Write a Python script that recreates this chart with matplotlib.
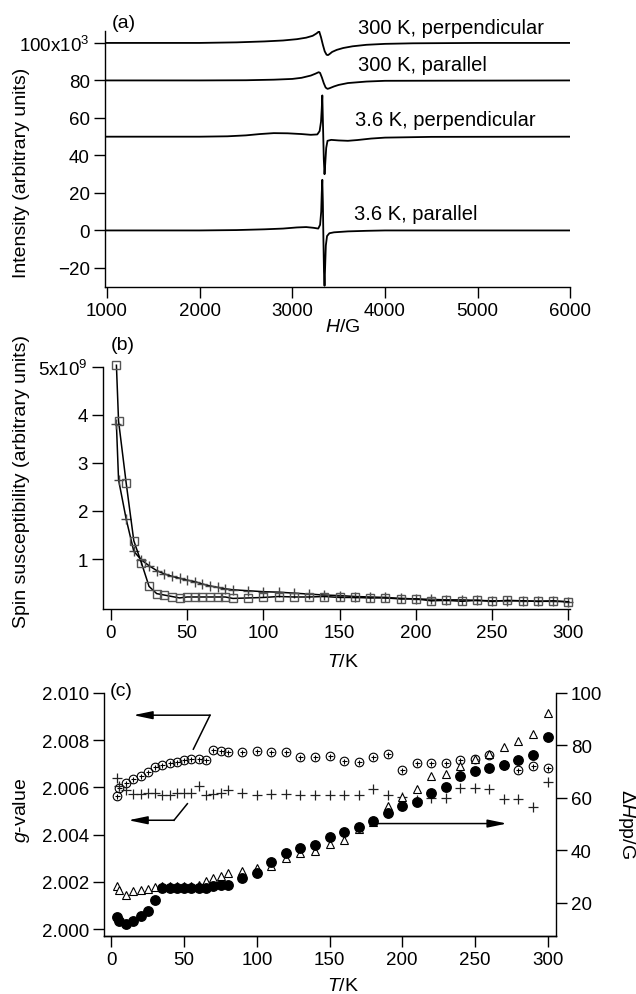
import matplotlib
matplotlib.use('Agg')
import matplotlib.pyplot as plt

plt.rcParams['font.family'] = ['Liberation Sans', 'DejaVu Sans']
plt.rcParams['mathtext.fontset'] = 'custom'
plt.rcParams['mathtext.rm'] = 'Liberation Sans'
plt.rcParams['mathtext.it'] = 'Liberation Sans:italic'
plt.rcParams['axes.unicode_minus'] = True

# ---------------- data: panel (a) EPR spectra (intensity in 10^3) ----------------
H_300_perp = [1000, 2000, 2400, 2700, 2900, 3050, 3150, 3220, 3260, 3290, 3310, 3330,
              3350, 3370, 3385, 3400, 3430, 3480, 3550, 3650, 3800, 4000, 4300, 5000, 6000]
I_300_perp = [100, 100, 100.3, 100.8, 101.3, 102.0, 102.8, 103.8, 105.0, 106.2, 103.0, 99.0,
              95.5, 93.7, 93.5, 94.0, 95.2, 96.3, 97.3, 98.2, 99.0, 99.5, 99.8, 100, 100]

H_300_par = [1000, 2000, 2500, 2800, 3000, 3100, 3200, 3250, 3285, 3300, 3320, 3340,
             3360, 3380, 3400, 3450, 3500, 3600, 3800, 4000, 6000]
I_300_par = [80, 80, 80.1, 80.4, 80.8, 81.4, 82.6, 83.6, 84.4, 84.0, 81.5, 78.5,
             76.2, 75.5, 75.8, 76.8, 77.6, 78.6, 79.4, 79.8, 80]

H_36_perp = [1000, 2000, 2300, 2500, 2650, 2800, 2950, 3100, 3200, 3270, 3295, 3310, 3318,
             3324, 3332, 3340, 3348, 3356, 3366, 3380, 3420, 3500, 3600, 3700, 3850, 4000,
             4500, 6000]
I_36_perp = [50, 50, 50.2, 50.7, 51.4, 51.9, 51.8, 51.4, 51.0, 51.2, 53, 58, 65,
             72, 55, 38, 30, 36, 44, 47.8, 48.3, 48.0, 47.8, 48.2, 49.0, 49.5,
             49.9, 50]

H_36_par = [1000, 2000, 2400, 2700, 2900, 3050, 3150, 3230, 3280, 3300, 3312, 3318, 3324,
            3330, 3336, 3342, 3348, 3354, 3362, 3375, 3400, 3450, 3600, 3800, 4000, 6000]
I_36_par = [0, 0, 0.2, 0.6, 1.0, 1.6, 1.8, 1.4, 1.0, 3, 10, 20, 27,
            15, -5, -22, -29.5, -20, -8, -3, -1.5, -1.0, -0.5, -0.2, 0, 0]

spectra_labels = ['300 K, perpendicular', '300 K, parallel',
                  '3.6 K, perpendicular', '3.6 K, parallel']

# ---------------- data: panel (b) spin susceptibility (10^9) ----------------
T_b = [3.6, 5, 10, 15, 20, 25, 30, 35, 40, 45, 50, 55, 60, 65, 70, 75, 80,
       90, 100, 110, 120, 130, 140, 150, 160, 170, 180, 190, 200, 210, 220, 230,
       240, 250, 260, 270, 280, 290, 300]
chi_square = [5.03, 3.87, 2.58, 1.38, 0.92, 0.43, 0.28, 0.25, 0.22, 0.19, 0.21, 0.21, 0.21,
              0.21, 0.21, 0.21, 0.18, 0.19, 0.20, 0.22, 0.21, 0.21, 0.22, 0.20, 0.20, 0.19,
              0.19, 0.17, 0.17, 0.13, 0.14, 0.12, 0.14, 0.12, 0.14, 0.13, 0.12, 0.13, 0.11]
chi_cross = [3.80, 2.65, 1.83, 1.16, 0.98, 0.86, 0.76, 0.69, 0.64, 0.60, 0.56, 0.53, 0.48,
             0.44, 0.41, 0.38, 0.36, 0.34, 0.32, 0.31, 0.29, 0.27, 0.25, 0.24, 0.22, 0.21,
             0.20, 0.18, 0.17, 0.16, 0.15, 0.15, 0.14, 0.13, 0.13, 0.13, 0.12, 0.12, 0.11]

# ---------------- data: panel (c) g-values and linewidths ----------------
T_c = T_b
g_perp = [2.00562, 2.00596, 2.00617, 2.00636, 2.00650, 2.00667, 2.00685, 2.00695, 2.00703,
          2.00709, 2.00715, 2.00720, 2.00720, 2.00717, 2.00758, 2.00755, 2.00749, 2.00752,
          2.00753, 2.00751, 2.00749, 2.00730, 2.00727, 2.00734, 2.00712, 2.00709, 2.00730,
          2.00742, 2.00674, 2.00703, 2.00703, 2.00703, 2.00717, 2.00720, 2.00739, 2.00697,
          2.00674, 2.00692, 2.00681]
g_par = [2.00638, 2.00605, 2.00588, 2.00572, 2.00572, 2.00576, 2.00575, 2.00569, 2.00569,
         2.00575, 2.00575, 2.00576, 2.00605, 2.00568, 2.00572, 2.00575, 2.00590, 2.00575,
         2.00568, 2.00572, 2.00572, 2.00568, 2.00568, 2.00568, 2.00568, 2.00568, 2.00593,
         2.00568, 2.00560, 2.00545, 2.00555, 2.00555, 2.00598, 2.00598, 2.00595, 2.00551,
         2.00551, 2.00516, 2.00624]
dH_filled = [14.8, 13.3, 12.0, 13.3, 15.2, 17.1, 21.3, 25.6, 25.6, 25.6, 25.6, 25.6, 25.6,
             25.6, 26.6, 26.9, 27.0, 29.4, 31.3, 35.7, 39.0, 41.0, 42.2, 45.3, 47.2, 49.1,
             51.1, 54.2, 57.1, 58.6, 62.0, 64.3, 68.3, 70.1, 71.3, 72.5, 74.4, 76.4, 83.1]
dH_open = [26.4, 24.9, 23.2, 24.5, 25.0, 25.3, 26.0, 26.3, 26.3, 26.3, 26.3, 26.5, 26.8,
           28.5, 29.4, 30.4, 31.3, 32.3, 33.2, 34.2, 37.0, 39.0, 39.9, 42.5, 44.0, 48.2,
           51.0, 56.8, 60.5, 63.4, 68.3, 69.1, 72.1, 74.9, 76.8, 79.3, 81.6, 84.4, 92.4]

# ---------------- layout ----------------
W, Hpx = 636, 995
FS = 13.5
FS_LAB = 14
FS_ANN = 14.5
fig = plt.figure(figsize=(W / 100, Hpx / 100), dpi=100)


def add_axes(l, r, t, b):
    return fig.add_axes([l / W, 1 - b / Hpx, (r - l) / W, (b - t) / Hpx])


def style(ax, right=False):
    ax.spines['top'].set_visible(False)
    if not right:
        ax.spines['right'].set_visible(False)
    for s in ax.spines.values():
        s.set_linewidth(1.0)
    ax.tick_params(direction='out', length=8, width=1.0, labelsize=FS, pad=3)


def ftext(x, y, s, fs=FS_LAB, **kw):
    fig.text(x / W, 1 - y / Hpx, s, fontsize=fs, **kw)


# ---- panel (a)
axa = add_axes(105, 570.4, 32.3, 287.7)
style(axa)
for Hs, Is in [(H_300_perp, I_300_perp), (H_300_par, I_300_par),
               (H_36_perp, I_36_perp), (H_36_par, I_36_par)]:
    axa.plot(Hs, Is, color='k', lw=1.3)
axa.set_xlim(980, 6000)
axa.set_ylim(-30, 106.2)
axa.set_xticks([1000, 2000, 3000, 4000, 5000, 6000])
axa.set_yticks([-20, 0, 20, 40, 60, 80, 100])
axa.set_yticklabels(['\u221220', '0', '20', '40', '60', '80', '100x10$^3$'])
label_pos = [(3713, 108.0), (3713, 88.4), (3676, 59.1), (3669, 9.3)]
for (x, y), s in zip(label_pos, spectra_labels):
    axa.text(x, y, s, ha='left', va='center', fontsize=FS_ANN, clip_on=False)
ftext(112, 24, '(a)', ha='left', va='center')
ftext(22, 173, 'Intensity (arbitrary units)', rotation=90, ha='center', va='center')
ftext(343, 328, '$\\mathit{H}$/G', ha='center', va='center')

# ---- panel (b)
axb = add_axes(103.3, 570, 367.7, 610)
style(axb)
axb.plot(T_b, chi_cross, '-', color='k', lw=1.1, marker='+', ms=7, mec='#444', mew=1.0,
         clip_on=False)
axb.plot(T_b, chi_square, '-', color='k', lw=1.1, marker='s', ms=5.5, mfc='none',
         mec='#555', mew=1.0, clip_on=False)
axb.set_xlim(-5, 301)
axb.set_ylim(-0.04, 5.0)
axb.set_xticks([0, 50, 100, 150, 200, 250, 300])
axb.set_yticks([1, 2, 3, 4, 5])
axb.set_yticklabels(['1', '2', '3', '4', '5x10$^9$'])
ftext(111, 346, '(b)', ha='left', va='center')
ftext(22, 481, 'Spin susceptibility (arbitrary units)', rotation=90, ha='center', va='center')
ftext(343, 663, '$\\mathit{T}$/K', ha='center', va='center')

# ---- panel (c)
axc = add_axes(104.3, 555.7, 694, 936.7)
style(axc)
axc2 = axc.twinx()
style(axc2, right=True)
axc2.spines['left'].set_visible(False)
axc.plot(T_c, g_perp, 'o', ms=6.2, mfc='none', mec='k', mew=0.8)
axc.plot(T_c, g_perp, '+', ms=3.6, mec='k', mew=0.8)
axc.plot(T_c, g_par, '+', ms=7, mec='#222', mew=0.9)
axc2.plot(T_c, dH_open, '^', ms=6.3, mfc='white', mec='k', mew=0.8)
axc2.plot(T_c, dH_filled, 'o', ms=6.8, color='k')
axc.set_xlim(-4.95, 305.6)
axc.set_ylim(1.99972, 2.010)
axc2.set_ylim(7.54, 100)
axc.set_xticks([0, 50, 100, 150, 200, 250, 300])
axc.set_yticks([2.000, 2.002, 2.004, 2.006, 2.008, 2.010])
axc.set_yticklabels(['%.3f' % v for v in [2.000, 2.002, 2.004, 2.006, 2.008, 2.010]])
axc2.set_yticks([20, 40, 60, 80, 100])

aprops = dict(arrowstyle='-|>,head_length=1.15,head_width=0.24', color='k', lw=1.1,
              shrinkA=0, shrinkB=0, mutation_scale=10)
axc.plot([56.3, 67.8], [2.00762, 2.00906], color='k', lw=1.1)
axc.annotate('', xy=(15.0, 2.00906), xytext=(67.8, 2.00906), arrowprops=aprops)
axc.plot([52.2, 43.0], [2.00531, 2.00461], color='k', lw=1.1)
axc.annotate('', xy=(11.6, 2.00461), xytext=(43.0, 2.00461), arrowprops=aprops)
axc.annotate('', xy=(272, 2.00447), xytext=(183.2, 2.00447), arrowprops=aprops)

ftext(110, 692, '(c)', ha='left', va='center')
ftext(22, 810, '$\\mathit{g}$-value', rotation=90, ha='center', va='center')
ftext(627, 824, '\u0394$\\mathit{H}$pp/G', rotation=270, ha='center', va='center')
ftext(343, 987, '$\\mathit{T}$/K', ha='center', va='center')

fig.savefig('out.png', dpi=100)
